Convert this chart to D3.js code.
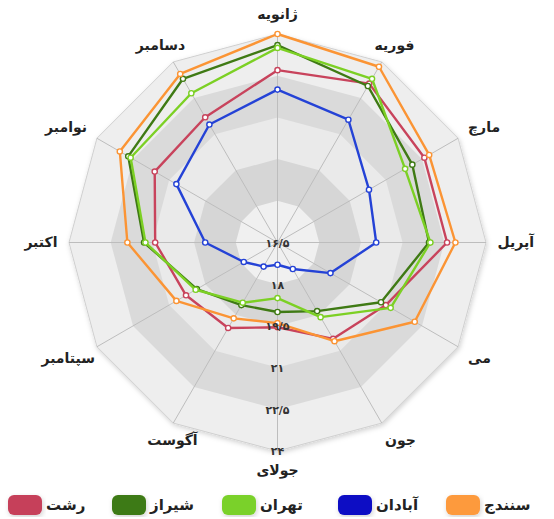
<!DOCTYPE html>
<html>
<head>
<meta charset="utf-8">
<script src="https://cdn.jsdelivr.net/npm/d3@7"></script>
<style>
  body { margin: 0; background: #fff; }
  svg { display: block; font-family: "DejaVu Sans", sans-serif; }
</style>
</head>
<body>
<div id="chart"></div>
<script>
const months = ['ژانویه', 'فوریه', 'مارچ', 'آپریل', 'می', 'جون', 'جولای', 'آگوست', 'سپتامبر', 'اکتبر', 'نوامبر', 'دسامبر'];
const cities = ['رشت', 'شیراز', 'تهران', 'آبادان', 'سنندج'];

const rasht = [22.7, 23.1, 22.6, 22.6, 21.0, 20.5, 19.55, 20.05, 20.3, 20.9, 21.6, 21.7];
const shiraz = [23.6, 23.0, 22.1, 21.95, 20.8, 19.35, 19.0, 19.1, 19.85, 21.3, 22.7, 23.3];
const tehran = [23.5, 23.3, 21.8, 22.0, 21.2, 19.6, 18.5, 19.0, 19.9, 21.25, 22.6, 22.7];
const abadan = [22.0, 21.6, 20.3, 20.05, 18.7, 17.6, 17.3, 17.5, 17.9, 19.1, 20.7, 21.4];
const sanandaj = [24.0, 23.8, 22.8, 22.9, 22.2, 20.6, 19.4, 19.65, 20.7, 21.9, 23.05, 23.5];

const tickValues = [16.5, 18, 19.5, 21, 22.5, 24];

const lineColors = ['#c8435c', '#3f7a14', '#7cd024', '#2442d6', '#fb9434'];
const swatchColors = ['#c6415a', '#3e7a12', '#7ad12a', '#0a0ac4', '#fd9a3e'];

const series = [rasht, shiraz, tehran, abadan, sanandaj];

const WIDTH = 554;
const HEIGHT = 519;
const CX = 277.5;
const CY = 242.5;
const R = 208.5;

const persian = (s) => String(s).replace(/\d/g, (c) => '۰۱۲۳۴۵۶۷۸۹'[+c]).replace('.', '/');

const svg = d3.select('#chart').append('svg')
  .attr('width', WIDTH)
  .attr('height', HEIGHT);

const defs = svg.append('defs');
const shadow = defs.append('filter').attr('id', 'shadow')
  .attr('x', '-10%').attr('y', '-10%').attr('width', '120%').attr('height', '120%');
shadow.append('feDropShadow')
  .attr('dx', 1).attr('dy', 2).attr('stdDeviation', 2.5)
  .attr('flood-color', '#000').attr('flood-opacity', 0.18);

const r = d3.scaleLinear().domain([16.5, 24]).range([0, R]);
const step = 2 * Math.PI / months.length;
const angle = (i) => i * step;

const g = svg.append('g').attr('transform', `translate(${CX},${CY})`);

// grid bands, outer first
const ring = (v) => d3.lineRadial()
  .angle((d, i) => angle(i))
  .radius(() => r(v))
  .curve(d3.curveLinearClosed)(months);

const bandFill = ['#eeeeee', '#dadada', '#eaeaea', '#d6d6d6', '#f0f0f0'];
const bandValues = tickValues.slice(1).reverse();

g.selectAll('path.band')
  .data(bandValues)
  .join('path')
  .attr('class', 'band')
  .attr('d', d => ring(d))
  .attr('fill', (d, i) => bandFill[i])
  .attr('stroke', (d, i) => i === 0 ? '#d0d0d0' : 'none')
  .attr('stroke-width', 1)
  .attr('filter', (d, i) => i === 0 ? 'url(#shadow)' : null);

// spokes
g.selectAll('line.spoke')
  .data(months)
  .join('line')
  .attr('class', 'spoke')
  .attr('x1', 0).attr('y1', 0)
  .attr('x2', (d, i) => r(24) * Math.sin(angle(i)))
  .attr('y2', (d, i) => -r(24) * Math.cos(angle(i)))
  .attr('stroke', '#bdbdbd')
  .attr('stroke-width', 1);

// series
const line = d3.lineRadial()
  .angle((d, i) => angle(i))
  .radius(d => r(d))
  .curve(d3.curveLinearClosed);

const sg = g.selectAll('g.series')
  .data(series)
  .join('g')
  .attr('class', 'series');

sg.append('path')
  .attr('d', d => line(d))
  .attr('fill', 'none')
  .attr('stroke', (d, i) => lineColors[i])
  .attr('stroke-width', 2.4)
  .attr('stroke-linejoin', 'round');

sg.each(function(vals, si) {
  d3.select(this).selectAll('circle')
    .data(vals)
    .join('circle')
    .attr('cx', (d, i) => r(d) * Math.sin(angle(i)))
    .attr('cy', (d, i) => -r(d) * Math.cos(angle(i)))
    .attr('r', 2.6)
    .attr('fill', '#fff')
    .attr('stroke', lineColors[si])
    .attr('stroke-width', 1.4);
});

// radial tick labels along the bottom spoke
g.selectAll('text.tick')
  .data(tickValues)
  .join('text')
  .attr('class', 'tick')
  .attr('x', 0)
  .attr('y', d => r(d) + 0.5)
  .attr('dy', '0.35em')
  .attr('text-anchor', 'middle')
  .attr('font-size', 11)
  .attr('font-weight', 'bold')
  .attr('fill', '#333')
  .text(d => persian(d));

// month labels
const labelPos = (i) => {
  const a = angle(i);
  const s = Math.sin(a);
  const c = Math.cos(a);
  const side = Math.abs(s) <= 0.51;
  const rr = side ? 228 : 220;
  let dx = 0;
  if (side && Math.abs(s) > 0.1) dx = c < 0 ? 9 : Math.sign(s) * 3;
  if (!side && c < -0.1 && s < 0) dx = 8;
  return {
    x: rr * s + dx,
    y: -rr * c - (side ? 0 : c * 11),
    anchor: side ? 'middle' : (s > 0 ? 'start' : 'end'),
  };
};

g.selectAll('text.month')
  .data(months)
  .join('text')
  .attr('class', 'month')
  .attr('x', (d, i) => labelPos(i).x)
  .attr('y', (d, i) => labelPos(i).y)
  .attr('dy', '0.35em')
  .attr('text-anchor', (d, i) => labelPos(i).anchor)
  .attr('font-size', 14)
  .attr('font-weight', 'bold')
  .attr('fill', '#222')
  .text(d => d);

// legend
const legendX = [8, 112, 222, 338, 446];
const legend = svg.append('g').attr('transform', 'translate(0,495)');

const item = legend.selectAll('g.item')
  .data(cities)
  .join('g')
  .attr('class', 'item')
  .attr('transform', (d, i) => `translate(${legendX[i]},0)`);

item.append('rect')
  .attr('width', 34)
  .attr('height', 20)
  .attr('rx', 6)
  .attr('fill', (d, i) => swatchColors[i])
  .attr('filter', 'url(#shadow)');

item.append('text')
  .attr('x', 38)
  .attr('y', 10)
  .attr('dy', '0.35em')
  .attr('font-size', 15)
  .attr('font-weight', 'bold')
  .attr('fill', '#222')
  .text(d => d);
</script>
</body>
</html>
